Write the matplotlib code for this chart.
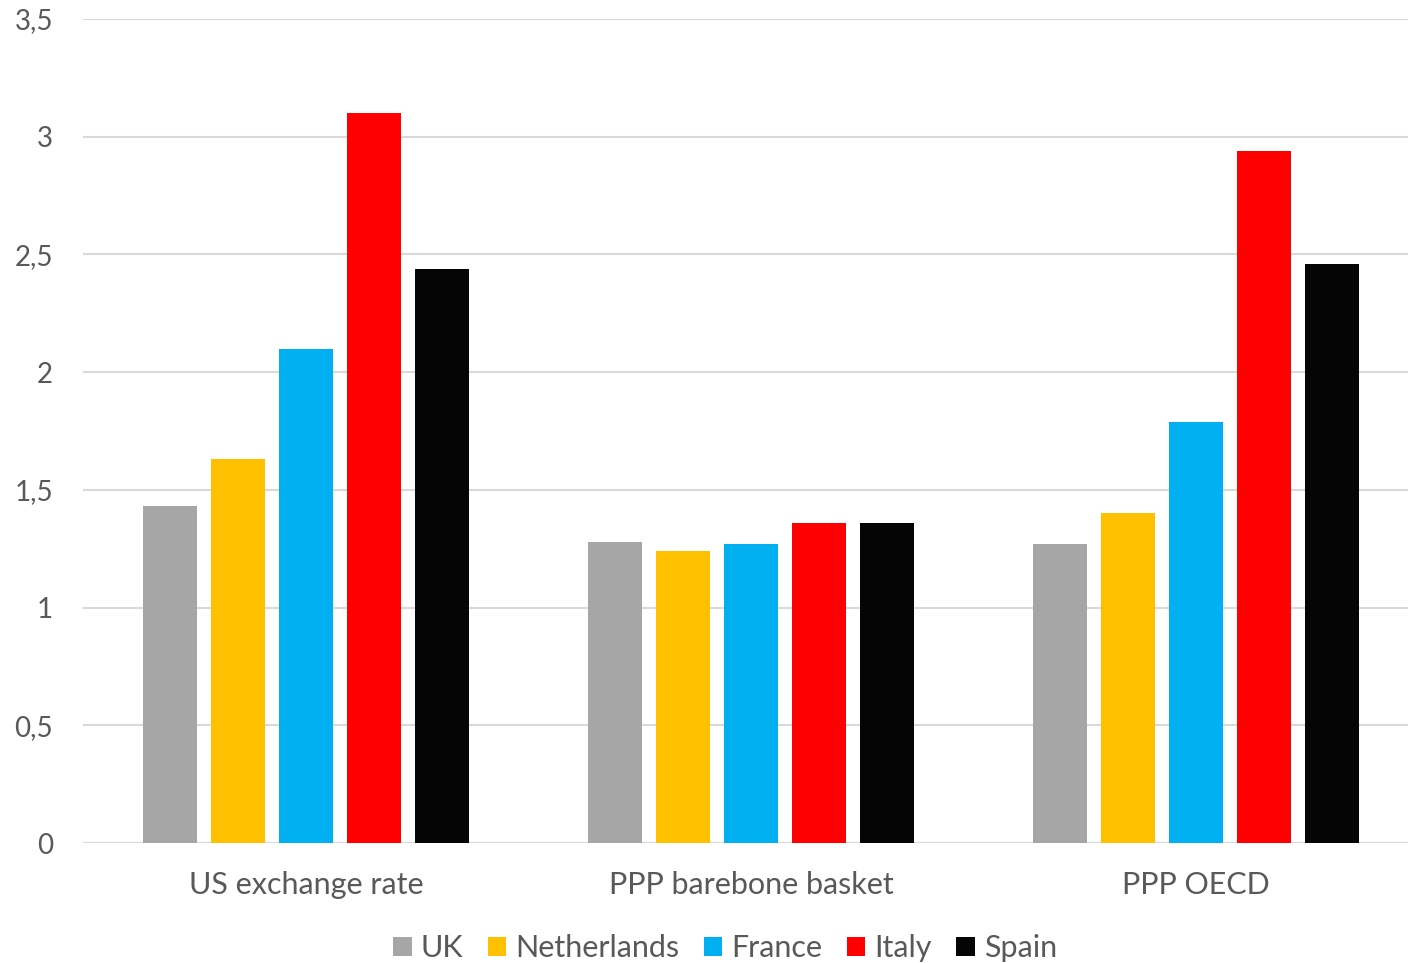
import matplotlib
matplotlib.use("Agg")
import matplotlib.pyplot as plt
import numpy as np
from matplotlib.ticker import FuncFormatter

categories = ["US exchange rate", "PPP barebone basket", "PPP OECD"]
countries = ["UK", "Netherlands", "France", "Italy", "Spain"]
uk = [1.43, 1.28, 1.27]
netherlands = [1.63, 1.24, 1.40]
france = [2.10, 1.27, 1.79]
italy = [3.10, 1.36, 2.94]
spain = [2.44, 1.36, 2.46]
colors = ["#A6A6A6", "#FFC000", "#00B0F0", "#FF0000", "#050505"]

plt.rcParams['font.family'] = ['Lato', 'DejaVu Sans']
text_color = "#595959"

fig = plt.figure(figsize=(14.08, 9.63), dpi=100)
ax = fig.add_axes([0.0593, 0.1246, 0.948, 0.8557])

x = np.arange(len(categories))
step = 0.153
width = 0.121
series = [uk, netherlands, france, italy, spain]
for i, (vals, name, c) in enumerate(zip(series, countries, colors)):
    ax.bar(x + (i - 2) * step, vals, width, color=c, label=name, zorder=3)

ax.set_xlim(-0.5, 2.5)
ax.set_ylim(0, 3.5)
ax.set_yticks(np.arange(0, 3.51, 0.5))
ax.yaxis.set_major_formatter(FuncFormatter(lambda v, p: ("%g" % v).replace(".", ",")))
ax.grid(axis='y', color="#D9D9D9", linewidth=1.5, zorder=0)
for s in ["top", "right", "left", "bottom"]:
    ax.spines[s].set_visible(False)
ax.axhline(0, color="#D9D9D9", linewidth=1.5, zorder=1)
ax.tick_params(axis='both', length=0, colors=text_color)
ax.tick_params(axis='y', labelsize=20, pad=22)
ax.tick_params(axis='x', labelsize=22, pad=20)
ax.set_xticks(x)
ax.set_xticklabels(categories)

leg = fig.legend(loc='lower center', bbox_to_anchor=(0.515, -0.028), ncol=5, frameon=False,
                 fontsize=22, handlelength=0.6, handleheight=0.6, handletextpad=0.3,
                 columnspacing=0.8)
for t in leg.get_texts():
    t.set_color(text_color)

fig.savefig("out.png", dpi=100)
